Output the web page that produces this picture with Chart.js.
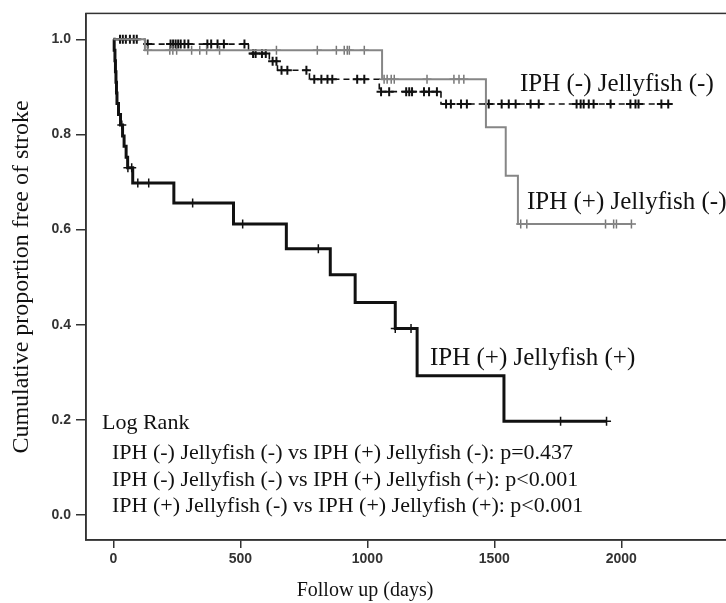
<!DOCTYPE html>
<html>
<head>
  <title>Kaplan-Meier: stroke free</title>
  <script src="https://cdn.jsdelivr.net/npm/chart.js@4.4.1/dist/chart.umd.min.js"></script>
  <style>
    html, body { margin: 0; padding: 0; background: #fff; overflow: hidden; }
    #wrap { width: 726px; height: 603px; overflow: hidden; }
  </style>
</head>
<body>
  <div id="wrap"><canvas id="km" width="740" height="603"></canvas></div>

  <script>
    // axis ticks
    const dayTicks = [0, 500, 1000, 1500, 2000];
    const propTicks = [0.0, 0.2, 0.4, 0.6, 0.8, 1.0];

    // IPH (-) Jellyfish (-): step times (days) and survival after each step
    const nnDays = [0, 124, 532, 614, 646, 772, 1047, 1290, 2185];
    const nnSurv = [1.0, 0.99, 0.97, 0.954, 0.935, 0.916, 0.89, 0.864, 0.864];
    const nnCensor = [26, 37, 49, 65, 80, 92, 135, 225, 235, 245, 255, 265, 280, 295, 370, 385, 410, 435, 516,
      550, 560, 585, 600, 627, 642, 662, 685, 760, 791, 819, 843, 862, 960, 988,
      1054, 1086, 1153, 1165, 1176, 1223, 1243, 1274, 1310, 1329, 1369, 1392, 1478, 1529, 1557, 1584,
      1643, 1675, 1824, 1840, 1852, 1872, 1891, 1958, 2036, 2056, 2068, 2158, 2185];

    // IPH (+) Jellyfish (-)
    const pnDays = [0, 124, 1058, 1467, 1545, 1593, 2040];
    const pnSurv = [1.0, 0.977, 0.916, 0.815, 0.713, 0.612, 0.612];
    const pnCensor = [135, 222, 234, 249, 308, 340, 367, 418, 642, 803, 878, 909, 921, 929, 988,
      1066, 1078, 1094, 1106, 1235, 1341, 1361, 1380, 1604, 1628, 1938, 1970, 1981, 2040];

    // IPH (+) Jellyfish (+)
    const ppDays = [0, 3, 6, 8, 10, 12, 14, 20, 28, 36, 42, 50, 56, 76, 238, 473, 681, 854, 952, 1110, 1196, 1538, 1942];
    const ppSurv = [1.0, 0.977, 0.955, 0.932, 0.91, 0.887, 0.865, 0.842, 0.82, 0.797, 0.775, 0.752, 0.73, 0.698,
      0.656, 0.612, 0.56, 0.505, 0.447, 0.392, 0.293, 0.197, 0.197];
    const ppCensor = [33, 57, 72, 96, 139, 312, 509, 807, 1110, 1172, 1761, 1942];

    const curveLabels = ['IPH (-) Jellyfish (-)', 'IPH (+) Jellyfish (-)', 'IPH (+) Jellyfish (+)'];
    const logRankLines = [
      'Log Rank',
      'IPH (-) Jellyfish (-) vs IPH (+) Jellyfish (-): p=0.437',
      'IPH (-) Jellyfish (-) vs IPH (+) Jellyfish (+): p<0.001',
      'IPH (+) Jellyfish (-) vs IPH (+) Jellyfish (+): p<0.001'
    ];
    const xTitle = 'Follow up (days)';
    const yTitle = 'Cumulative proportion free of stroke';

    function steps(days, surv) {
      return days.map((d, i) => ({ x: d, y: surv[i] }));
    }
    // censor mark sits on the curve value at that time
    function marks(days, surv, censor) {
      return censor.map(t => {
        let v = surv[0];
        for (let i = 0; i < days.length; i++) if (days[i] <= t) v = surv[i];
        return { x: t, y: v };
      });
    }

    const SERIF = '"Liberation Serif", "Times New Roman", serif';

    const frameAndText = {
      id: 'frameAndText',
      afterDraw(chart) {
        const { ctx, chartArea: a } = chart;
        ctx.save();
        ctx.strokeStyle = '#333';
        ctx.lineWidth = 1.5;
        ctx.strokeRect(a.left, a.top, a.right - a.left, a.bottom - a.top);

        ctx.fillStyle = '#111';
        ctx.textBaseline = 'middle';
        ctx.textAlign = 'left';
        ctx.font = '25px ' + SERIF;
        ctx.fillText(curveLabels[0], 520, 84);
        ctx.fillText(curveLabels[1], 527, 202);
        ctx.fillText(curveLabels[2], 430, 358);

        ctx.font = '22px ' + SERIF;
        ctx.fillText(logRankLines[0], 102, 423);
        ctx.fillText(logRankLines[1], 112, 453);
        ctx.fillText(logRankLines[2], 112, 480);
        ctx.fillText(logRankLines[3], 112, 506);

        ctx.textAlign = 'center';
        ctx.font = '20px ' + SERIF;
        ctx.fillText(xTitle, 365, 591);

        ctx.translate(22, 277);
        ctx.rotate(-Math.PI / 2);
        ctx.font = '24px ' + SERIF;
        ctx.fillText(yTitle, 0, 0);
        ctx.restore();
      }
    };

    const tickFont = { family: '"Liberation Sans", Arial, sans-serif', size: 14, weight: 'bold' };

    new Chart(document.getElementById('km'), {
      type: 'line',
      data: {
        datasets: [
          {
            data: steps(pnDays, pnSurv),
            borderColor: '#868686', borderWidth: 2, stepped: 'before', pointRadius: 0
          },
          {
            data: marks(pnDays, pnSurv, pnCensor),
            showLine: false, pointStyle: 'cross', pointRadius: 4.5,
            pointBorderColor: '#777', pointBorderWidth: 1.5
          },
          {
            data: steps(nnDays, nnSurv),
            borderColor: '#111', borderWidth: 1.6, borderDash: [6, 4], stepped: 'before', pointRadius: 0
          },
          {
            data: marks(nnDays, nnSurv, nnCensor),
            showLine: false, pointStyle: 'cross', pointRadius: 4.5,
            pointBorderColor: '#111', pointBorderWidth: 2
          },
          {
            data: steps(ppDays, ppSurv),
            borderColor: '#111', borderWidth: 3, stepped: 'before', pointRadius: 0
          },
          {
            data: marks(ppDays, ppSurv, ppCensor),
            showLine: false, pointStyle: 'cross', pointRadius: 4.5,
            pointBorderColor: '#111', pointBorderWidth: 1.5
          }
        ]
      },
      options: {
        responsive: false,
        animation: false,
        layout: { padding: { top: 12, right: 0, bottom: 0, left: 0 } },
        plugins: { legend: { display: false }, tooltip: { enabled: false } },
        scales: {
          x: {
            type: 'linear',
            min: -108,
            max: 2442,
            afterBuildTicks: s => { s.ticks = dayTicks.map(v => ({ value: v })); },
            afterFit: s => { s.height = 63; },
            grid: { drawOnChartArea: false, tickLength: 8, color: '#333', lineWidth: 1.5 },
            border: { color: '#333', width: 1.5 },
            ticks: { font: tickFont, color: '#333', padding: 3, maxRotation: 0, callback: v => String(v) }
          },
          y: {
            min: -0.0524,
            max: 1.0545,
            afterBuildTicks: s => { s.ticks = propTicks.map(v => ({ value: v })); },
            afterFit: s => { s.width = 86; },
            grid: { drawOnChartArea: false, tickLength: 10, color: '#333', lineWidth: 1.5 },
            border: { color: '#333', width: 1.5 },
            ticks: { font: tickFont, color: '#333', padding: 5, callback: v => v.toFixed(1) }
          }
        }
      },
      plugins: [frameAndText]
    });
  </script>
</body>
</html>
